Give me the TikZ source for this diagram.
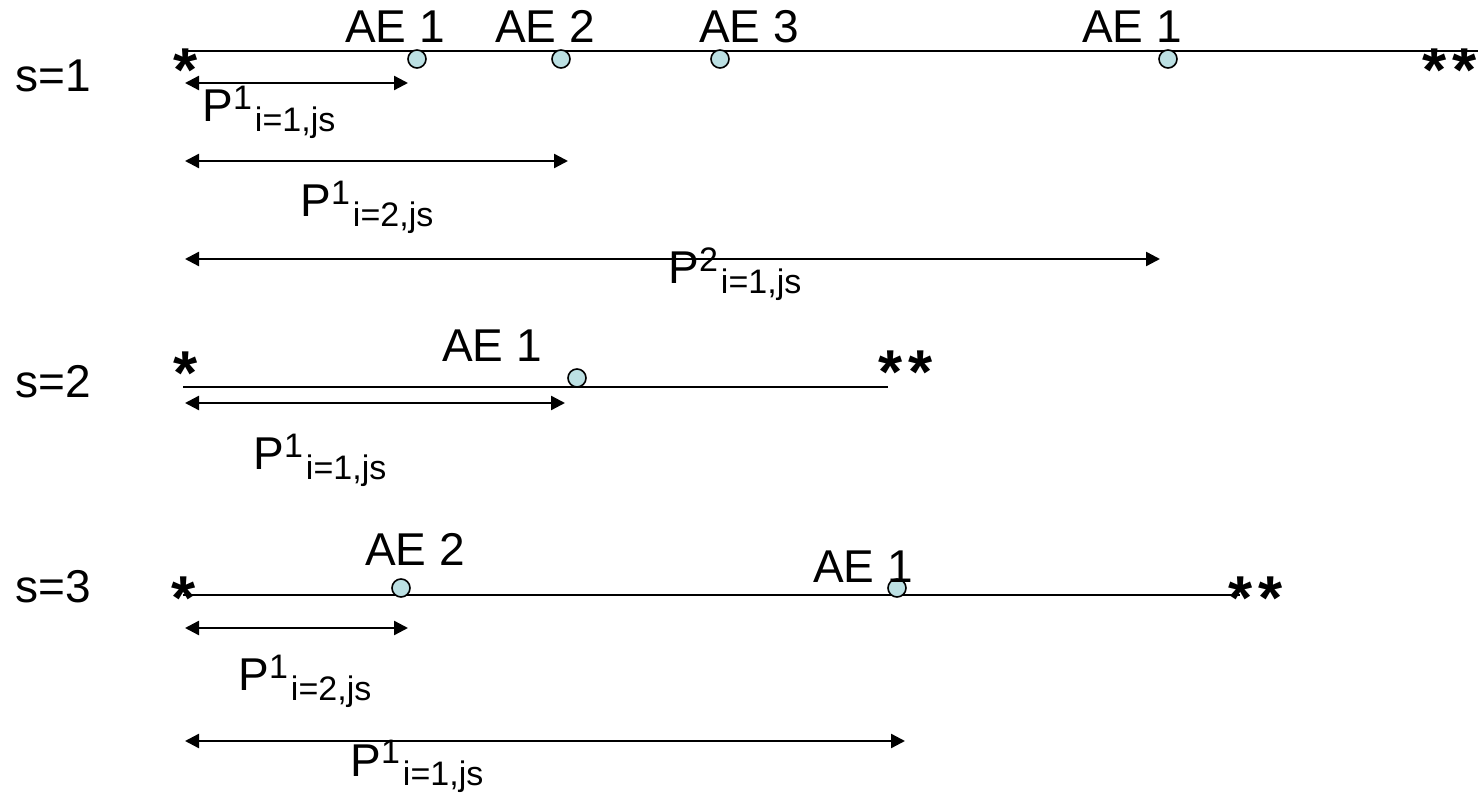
\documentclass[tikz,border=0pt]{standalone}
\usepackage{fontspec}
\setmainfont{Liberation Sans}
\usetikzlibrary{arrows.meta}
\definecolor{dotfill}{HTML}{BCE0E3}
\newcommand{\plab}[2]{P\raisebox{6pt}{\fontsize{17}{17}\selectfont #1}\hspace{1.5pt}\raisebox{-5pt}{\fontsize{17}{17}\selectfont #2}}

\begin{document}
\begin{tikzpicture}[x=0.5pt,y=-0.5pt,
  txt/.style={inner sep=0pt,font=\fontsize{23}{23}\selectfont},
  star/.style={inner sep=0pt,anchor=base,font=\fontsize{31}{31}\selectfont\bfseries},
  aedot/.style={circle,draw,fill=dotfill,line width=0.8pt,inner sep=0pt,minimum size=9pt},
  tline/.style={line width=1.2pt},
  span/.style={line width=1.2pt,{Triangle[length=7pt,width=7pt]}-{Triangle[length=7pt,width=7pt]}}]
\useasboundingbox (0,0) rectangle (1478,801);
% s=1
\node[txt,anchor=base west] (s1) at (15,92) {s=1};
\coordinate (t1a) at (183,51); \coordinate (t1b) at (1478,51);
\draw[tline] (t1a) -- (t1b);
\node[star] (st1a) at (186,92) {*}; \node[star] (st1b) at (1450,92) {*\hspace{3pt}*};
\foreach \n/\x/\lx/\t in {a/417/395/AE 1,b/561/545/AE 2,c/720/749/AE 3,d/1168/1132/AE 1}{
  \node[aedot] (c1\n) at (\x,59) {};
  \node[txt,anchor=base] (l1\n) at (\lx,43) {\t};
}
\coordinate (p1a) at (185,83); \coordinate (p1b) at (408,83);
\draw[span] (p1a) -- (p1b);
\node[txt,anchor=base west] (q1) at (202,122) {\plab{1}{i=1,js}};
\coordinate (p2a) at (185,161); \coordinate (p2b) at (568,161);
\draw[span] (p2a) -- (p2b);
\node[txt,anchor=base west] (q2) at (300,217) {\plab{1}{i=2,js}};
\coordinate (p3a) at (185,259); \coordinate (p3b) at (1160,259);
\draw[span] (p3a) -- (p3b);
\node[txt,anchor=base west] (q3) at (668,284) {\plab{2}{i=1,js}};
% s=2
\node[txt,anchor=base west] (s2) at (15,398) {s=2};
\coordinate (t2a) at (183,387); \coordinate (t2b) at (888,387);
\draw[tline] (t2a) -- (t2b);
\node[star] (st2a) at (186,395) {*}; \node[star] (st2b) at (906,394) {*\hspace{3pt}*};
\node[aedot] (c2a) at (577,378) {};
\node[txt,anchor=base] (l2a) at (492,362) {AE 1};
\coordinate (p4a) at (185,403); \coordinate (p4b) at (565,403);
\draw[span] (p4a) -- (p4b);
\node[txt,anchor=base west] (q4) at (253,470) {\plab{1}{i=1,js}};
% s=3
\node[txt,anchor=base west] (s3) at (15,603) {s=3};
\coordinate (t3a) at (183,595); \coordinate (t3b) at (1240,595);
\draw[tline] (t3a) -- (t3b);
\node[star] (st3a) at (184,620) {*}; \node[star] (st3b) at (1256,620) {*\hspace{3pt}*};
\node[aedot] (c3a) at (401,588) {}; \node[aedot] (c3b) at (897,588) {};
\node[txt,anchor=base] (l3a) at (415,566) {AE 2};
\node[txt,anchor=base] (l3b) at (863,583) {AE 1};
\coordinate (p5a) at (185,628); \coordinate (p5b) at (408,628);
\draw[span] (p5a) -- (p5b);
\node[txt,anchor=base west] (q5) at (238,690) {\plab{1}{i=2,js}};
\coordinate (p6a) at (185,741); \coordinate (p6b) at (905,741);
\draw[span] (p6a) -- (p6b);
\node[txt,anchor=base west] (q6) at (350,776) {\plab{1}{i=1,js}};
\end{tikzpicture}
\end{document}
